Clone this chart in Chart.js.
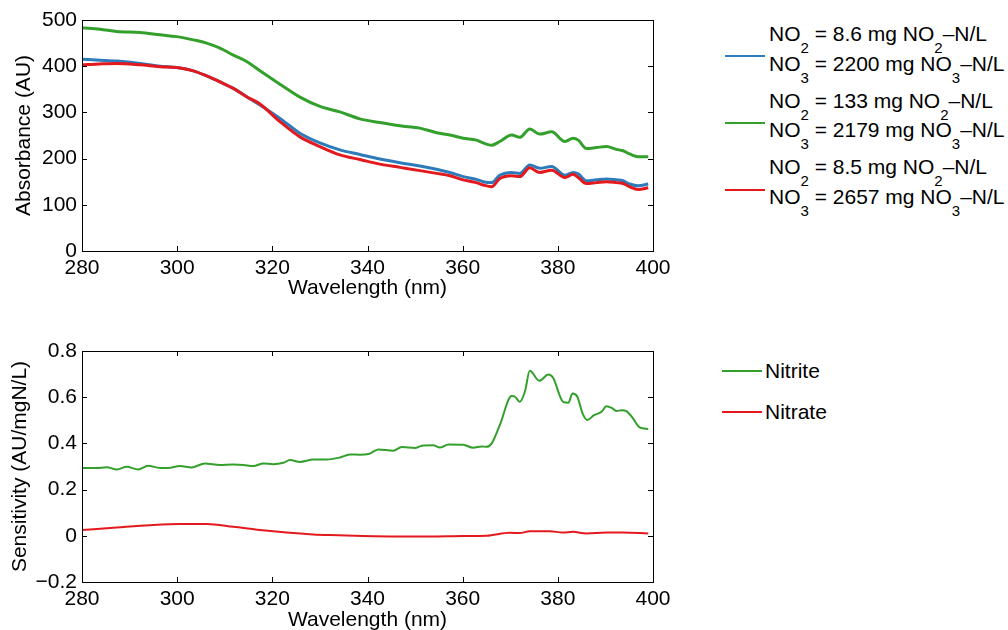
<!DOCTYPE html>
<html lang="en">
<head>
<meta charset="UTF-8">
<title>Absorbance and sensitivity</title>
<script src="https://cdn.jsdelivr.net/npm/chart.js"></script>
<style>
  html, body { margin: 0; padding: 0; background: #fff; overflow: hidden; }
  body { width: 1008px; height: 630px; position: relative; font-family: "Liberation Sans", Arial, sans-serif; color: #000; }
  #box1 { position: absolute; left: 0; top: 0; width: 700px; height: 315px; }
  #box2 { position: absolute; left: 0; top: 315px; width: 700px; height: 330px; }
  .leg { position: absolute; font-size: 21px; line-height: 24px; white-space: nowrap; }
  .sub { font-size: 15px; position: relative; top: 12px; }
  .swatch { position: absolute; height: 2px; width: 40px; }
</style>
</head>
<body>

<div id="box1"><canvas id="chartAbs"></canvas></div>
<div id="box2"><canvas id="chartSens"></canvas></div>
<div id="legend"></div>

<script>
// top plot: absorbance spectra
var wavelength = [280, 283.8, 287.3, 292.2, 296.4, 299.9, 303.4, 306.2, 309, 311.8, 314.6, 317.4, 321.6, 325.8, 330,
  334.2, 338.4, 342.6, 346.8, 351, 354.5, 357.3, 360.1, 362.9, 364.3, 366.1, 367.8, 370.3, 372,
  374.1, 376.2, 378.7, 381.5, 383.2, 384.3, 386, 388.1, 390.2, 392.3, 393.7, 395.1, 396.9, 399];
var absBlue = [415, 413, 411, 406, 400, 397, 390, 379, 366, 352, 334, 316, 287, 255, 234,
  219, 209, 199, 191, 184, 177, 170, 161, 155, 150, 148, 164, 170, 168,
  186, 179, 183, 164, 170, 167, 152, 154, 156, 154, 152, 145, 141, 145];
var absGreen = [483, 480, 475, 473, 468, 464, 457, 450, 439, 424, 410, 390, 361, 333, 313,
  301, 286, 278, 271, 266, 256, 251, 244, 240, 234, 229, 237, 251, 246,
  264, 253, 258, 237, 244, 240, 222, 224, 226, 220, 217, 210, 204, 204];
var absRed = [403, 405, 406, 403, 399, 397, 390, 379, 366, 352, 334, 318, 280, 247, 226,
  208, 198, 188, 181, 174, 168, 163, 154, 148, 143, 139, 157, 163, 161,
  180, 170, 175, 159, 166, 159, 146, 148, 150, 148, 146, 139, 133, 137];
var no2Conc = ['8.6', '133', '8.5'];
var no3Conc = ['2200', '2179', '2657'];

// bottom plot: sensitivity
var nitriteWl = [280, 283, 285.2, 287.3, 289.4, 291.8, 293.9, 296.4, 298.1, 300.6, 303, 305.8, 309, 311.8, 313.9, 316,
  318.1, 320.2, 322.3, 323.7, 325.8, 328.6, 331.4, 334.2, 336.3, 338.4, 340.2, 342.3, 345.4, 347.2, 350, 351.4, 353.8,
  355.2, 357, 360.1, 362.2, 364, 365, 366.1, 367.8, 370.3, 371, 372, 373.1, 374.1, 376.1, 378, 379, 381.1, 382.2, 383.1,
  384.1, 385.2, 386.2, 387.6, 389.2, 390.2, 391.3, 392.3, 393.4, 394.4, 395.8, 397.2, 399];
var nitriteSens = [0.294, 0.293, 0.297, 0.287, 0.299, 0.287, 0.303, 0.294, 0.294, 0.302, 0.296, 0.313, 0.306, 0.309, 0.307, 0.302,
  0.313, 0.310, 0.316, 0.328, 0.320, 0.330, 0.330, 0.339, 0.352, 0.351, 0.354, 0.374, 0.368, 0.384, 0.380, 0.390, 0.392,
  0.382, 0.395, 0.394, 0.381, 0.387, 0.385, 0.400, 0.479, 0.605, 0.602, 0.580, 0.626, 0.714, 0.671, 0.698, 0.684, 0.580, 0.576, 0.616,
  0.602, 0.530, 0.501, 0.522, 0.537, 0.561, 0.554, 0.540, 0.544, 0.540, 0.508, 0.469, 0.462];
var nitrateWl = [280, 287.3, 294.3, 300.6, 306.2, 311.8, 317.4, 323, 328.6, 332.1, 339.1, 346.1, 353.1, 360.1, 365,
  369.9, 372, 374.1, 378.3, 381.1, 383.2, 386, 390.2, 393.7, 399];
var nitrateSens = [0.025, 0.036, 0.046, 0.051, 0.051, 0.039, 0.025, 0.014, 0.006, 0.003, -0.001, -0.003, -0.003, -0.001, 0,
  0.013, 0.012, 0.020, 0.020, 0.014, 0.017, 0.010, 0.014, 0.014, 0.010];

var xTicks = [280, 300, 320, 340, 360, 380, 400];

var BLUE = '#2c7bba';
var GREEN = '#33a02c';
var RED = '#e3191e';
var FONT = '"Liberation Sans", Arial, sans-serif';

function pts(xs, ys) {
  return xs.map(function (v, i) { return { x: v, y: ys[i] }; });
}

// box round the plot with inward ticks on all four sides, like matlab
var boxTicks = {
  id: 'boxTicks',
  afterDraw: function (chart) {
    var ctx = chart.ctx, a = chart.chartArea, sx = chart.scales.x, sy = chart.scales.y;
    ctx.save();
    ctx.strokeStyle = '#000';
    ctx.lineWidth = 1;
    ctx.beginPath();
    sx.ticks.forEach(function (t) {
      var p = Math.round(sx.getPixelForValue(t.value)) + 0.5;
      ctx.moveTo(p, a.bottom); ctx.lineTo(p, a.bottom - 5);
      ctx.moveTo(p, a.top); ctx.lineTo(p, a.top + 5);
    });
    sy.ticks.forEach(function (t) {
      var p = Math.round(sy.getPixelForValue(t.value)) + 0.5;
      ctx.moveTo(a.left, p); ctx.lineTo(a.left + 5, p);
      ctx.moveTo(a.right, p); ctx.lineTo(a.right - 5, p);
    });
    ctx.stroke();
    ctx.strokeRect(Math.round(a.left) + 0.5, Math.round(a.top) + 0.5, Math.round(a.right - a.left), Math.round(a.bottom - a.top));
    ctx.restore();
  }
};

function xScale(titlePad) {
  return {
    type: 'linear', min: 280, max: 400, offset: false,
    afterBuildTicks: function (s) { s.ticks = xTicks.map(function (v) { return { value: v }; }); },
    grid: { display: false, drawTicks: false },
    border: { display: false },
    ticks: { color: '#000', padding: 5, font: { family: FONT, size: 21 } },
    title: { display: true, text: 'Wavelength (nm)', color: '#000', font: { family: FONT, size: 21 }, padding: { top: 0, bottom: titlePad } }
  };
}

function yScale(min, max, step, text, titlePad, fmt) {
  return {
    type: 'linear', min: min, max: max,
    grid: { display: false, drawTicks: false },
    border: { display: false },
    afterFit: function (s) { s.width = 82; },
    ticks: { stepSize: step, color: '#000', padding: 5, font: { family: FONT, size: 21 }, callback: fmt },
    title: { display: true, text: text, color: '#000', font: { family: FONT, size: 21 }, padding: { top: titlePad, bottom: 0 } }
  };
}

function lineSet(label, data, color, width, order) {
  return {
    label: label, data: data, borderColor: color, backgroundColor: color,
    borderWidth: width, pointRadius: 0, fill: false, order: order,
    cubicInterpolationMode: 'monotone'
  };
}

var absX = xScale(14);
absX.afterFit = function (s) { s.height = 64; };

new Chart(document.getElementById('chartAbs'), {
  type: 'line',
  data: {
    datasets: [
      lineSet('blue', pts(wavelength, absBlue), BLUE, 3, 1),
      lineSet('green', pts(wavelength, absGreen), GREEN, 3, 2),
      lineSet('red', pts(wavelength, absRed), RED, 3, 0)
    ]
  },
  options: {
    responsive: true, maintainAspectRatio: false, animation: false,
    layout: { padding: { left: 0, right: 47, top: 20, bottom: 0 } },
    plugins: { legend: { display: false }, tooltip: { enabled: false } },
    scales: {
      x: absX,
      y: yScale(0, 500, 100, 'Absorbance (AU)', 12, function (v) { return String(v); })
    }
  },
  plugins: [boxTicks]
});

var sensX = xScale(12);
sensX.afterFit = function (s) { s.height = 63; };

new Chart(document.getElementById('chartSens'), {
  type: 'line',
  data: {
    datasets: [
      lineSet('Nitrite', pts(nitriteWl, nitriteSens), GREEN, 2, 1),
      lineSet('Nitrate', pts(nitrateWl, nitrateSens), RED, 2, 0)
    ]
  },
  options: {
    responsive: true, maintainAspectRatio: false, animation: false,
    layout: { padding: { left: 0, right: 47, top: 36, bottom: 0 } },
    plugins: { legend: { display: false }, tooltip: { enabled: false } },
    scales: {
      x: sensX,
      y: yScale(-0.2, 0.8, 0.2, 'Sensitivity (AU/mgN/L)', 8, function (v) {
        if (Math.abs(v) < 1e-9) return '0';
        return v.toFixed(1).replace('-', '\u2212');
      })
    }
  },
  plugins: [boxTicks]
});

// legends, html so the subscripts stay real text
var legend = document.getElementById('legend');
var topColors = [BLUE, GREEN, RED];
var html = '';
for (var k = 0; k < 3; k++) {
  var c1 = 34 + 66.5 * k;
  var c2 = c1 + 29.5;
  html += '<div class="leg" style="left:769px;top:' + (c1 - 12) + 'px">NO<span class="sub">2</span> = ' + no2Conc[k] +
    ' mg NO<span class="sub">2</span>\u2013N/L</div>';
  html += '<div class="leg" style="left:769px;top:' + (c2 - 12) + 'px">NO<span class="sub">3</span> = ' + no3Conc[k] +
    ' mg NO<span class="sub">3</span>\u2013N/L</div>';
  html += '<div class="swatch" style="left:725px;top:' + (55 + 66.8 * k) + 'px;background:' + topColors[k] + '"></div>';
}
var botNames = ['Nitrite', 'Nitrate'];
var botColors = [GREEN, RED];
var botY = [371, 412];
for (var j = 0; j < 2; j++) {
  html += '<div class="leg" style="left:765px;top:' + (botY[j] - 12) + 'px">' + botNames[j] + '</div>';
  html += '<div class="swatch" style="left:722px;top:' + (botY[j] - 1) + 'px;background:' + botColors[j] + '"></div>';
}
legend.innerHTML = html;
</script>
</body>
</html>
